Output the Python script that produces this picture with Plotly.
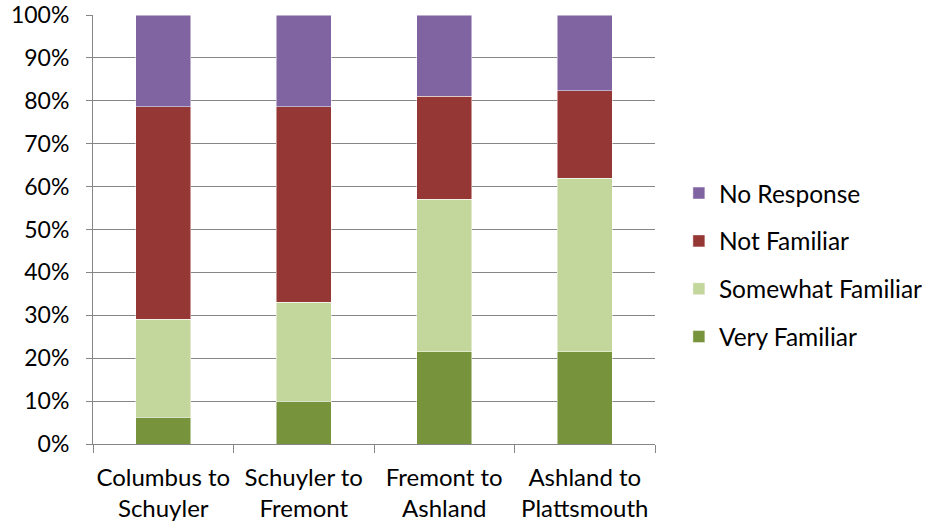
import plotly.graph_objects as go

categories = ["Columbus to<br>Schuyler", "Schuyler to<br>Fremont",
              "Fremont to<br>Ashland", "Ashland to<br>Plattsmouth"]
very_familiar = [6.2, 10.0, 21.5, 21.5]
somewhat_familiar = [22.9, 23.0, 35.5, 40.5]
not_familiar = [49.5, 45.6, 24.1, 20.3]
no_response = [21.4, 21.4, 18.9, 17.7]
y_ticks = [0, 10, 20, 30, 40, 50, 60, 70, 80, 90, 100]
y_tick_labels = [f"{v}%" for v in y_ticks]

# (name, values, colour, position in legend from the top)
series = [
    ("Very Familiar", very_familiar, "#77933C", 4),
    ("Somewhat Familiar", somewhat_familiar, "#C3D69B", 3),
    ("Not Familiar", not_familiar, "#953735", 2),
    ("No Response", no_response, "#8064A2", 1),
]

fig = go.Figure()
for name, vals, color, rank in series:
    fig.add_trace(go.Bar(
        x=categories, y=vals, name=name, legendgroup=name, legendrank=rank,
        marker=dict(color=color, line=dict(color="rgba(255,255,255,0.6)", width=0.8)),
    ))

font = "Lato, Calibri, 'Open Sans', sans-serif"
axis_gray = "#868686"

fig.update_layout(
    width=930, height=527,
    barmode="stack", bargap=0.61,
    plot_bgcolor="white", paper_bgcolor="white",
    margin=dict(l=93, r=275, t=15, b=83, autoexpand=False),
    font=dict(family=font, size=24, color="#000000"),
    legend=dict(
        x=1.0425, y=0.417, xanchor="left", yanchor="middle",
        traceorder="grouped", tracegroupgap=13,
        font=dict(size=24.5), itemwidth=30,
    ),
    xaxis=dict(
        showline=True, linecolor=axis_gray, linewidth=1,
        ticks="outside", tickson="boundaries", ticklen=8,
        tickcolor=axis_gray, showgrid=False, automargin=False,
        tickangle=0, ticklabelstandoff=12,
    ),
    yaxis=dict(
        range=[0, 100], tickvals=y_ticks, ticktext=y_tick_labels,
        showline=True, linecolor=axis_gray, linewidth=1,
        ticks="outside", ticklen=6, tickcolor=axis_gray,
        showgrid=True, gridcolor=axis_gray, gridwidth=1,
        zeroline=False, automargin=False, ticklabelstandoff=12,
        tickfont=dict(size=23),
    ),
)

fig.write_html("out.html")
